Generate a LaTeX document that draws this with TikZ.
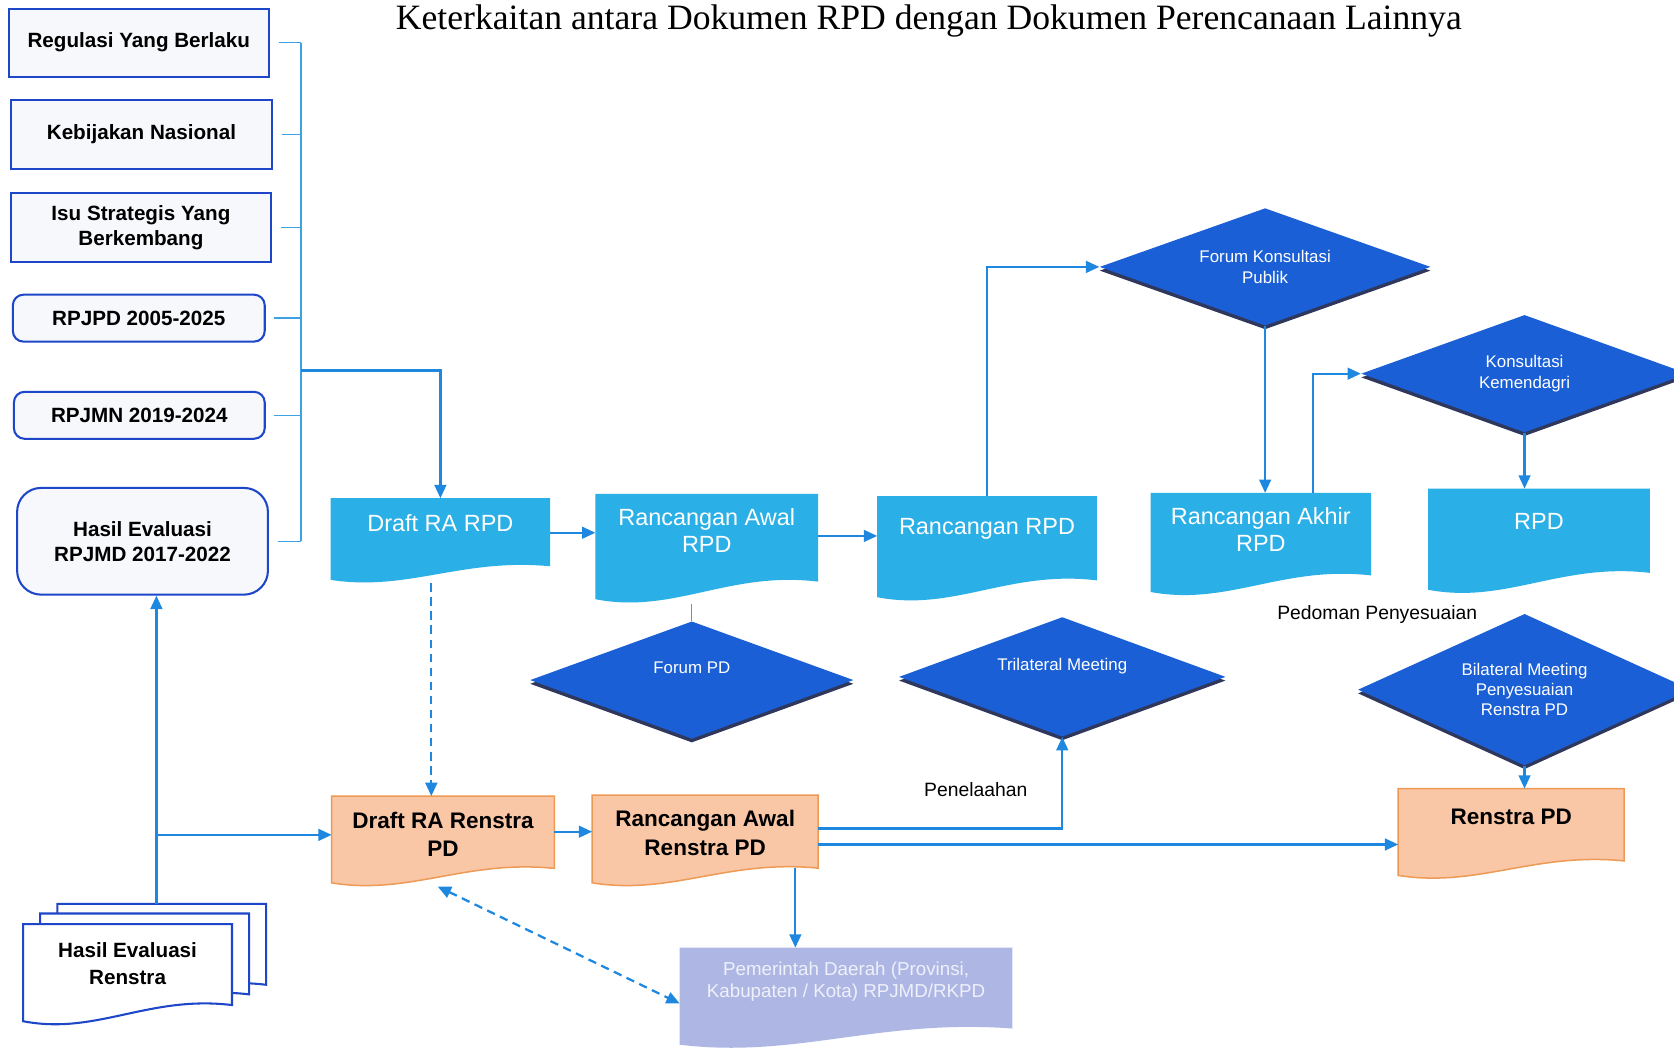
\documentclass[tikz,border=0pt]{standalone}
\usepackage{fontspec}
\setmainfont{Liberation Sans}
\newfontfamily\titlefont{Liberation Serif}
\usepackage{tikz}
\usetikzlibrary{arrows.meta, positioning, calc, shapes.geometric, shadows, backgrounds}

\definecolor{boxblue}{HTML}{1E46C8}
\definecolor{boxfill}{HTML}{F6F8FB}
\definecolor{feedblue}{HTML}{3BA3E3}
\definecolor{flowblue}{HTML}{1E88E0}
\definecolor{docblue}{HTML}{2AAFE6}
\definecolor{meetblue}{HTML}{1A5FD6}
\definecolor{meetshadow}{HTML}{0B1640}
\definecolor{renstrafill}{HTML}{F9C6A6}
\definecolor{renstradraw}{HTML}{EE9A55}
\definecolor{pemdafill}{HTML}{AEB7E4}
\definecolor{pemdatext}{HTML}{EEF0FA}

% sheet with a wavy lower edge, drawn round a node
\newcommand{\docsheet}[2]{%
  \path[#1] let \p1=(#2.south west), \p2=(#2.north east),
      \n1={\x2-\x1}, \n2={\y2-\y1} in
    (\x1,\y2) -- (\x2,\y2) -- (\x2,\y1+0.2*\n2)
    .. controls (\x1+0.6*\n1,\y1+0.3*\n2) and (\x1+0.35*\n1,\y1-0.1*\n2)
    .. (\x1,\y1+0.04*\n2) -- cycle;}

\begin{document}
\begin{tikzpicture}[
    x=0.02cm, y=-0.02cm,
    srcbox/.style={draw=boxblue, fill=boxfill, line width=1.1pt, align=center,
      font=\bfseries\fontsize{11}{13.2}\selectfont},
    srcround/.style={srcbox, rounded corners=#1},
    srcround/.default=0.2cm,
    srctext/.style={align=center, font=\bfseries\fontsize{11}{14.2}\selectfont},
    sheet/.style={inner sep=0pt},
    bluetext/.style={text=white, align=center, font=\fontsize{12.5}{14.8}\selectfont},
    orangetext/.style={align=center, font=\bfseries\fontsize{12}{15.4}\selectfont},
    meeting/.style={diamond, aspect=2.8, inner sep=0pt, fill=meetblue, text=white,
      align=center, font=\fontsize{9}{10.8}\selectfont,
      drop shadow={shadow xshift=0cm, shadow yshift=-0.07cm, fill=meetshadow, opacity=0.85}},
    note/.style={font=\fontsize{10.3}{12}\selectfont},
    flow/.style={-{Triangle[length=0.25cm, width=0.22cm]}, draw=flowblue, line width=1.2pt},
    dashflow/.style={flow, dash pattern=on 4.5pt off 3pt},
    bothflow/.style={dashflow, {Triangle[length=0.25cm, width=0.22cm]}-{Triangle[length=0.25cm, width=0.22cm]}},
    feed/.style={draw=feedblue, line width=0.7pt}
  ]
  \useasboundingbox (0,0) rectangle (1568,983);
  \clip (0,0) rectangle (1568,983);
  \begin{scope}[on background layer]
    \fill[white] (0,0) rectangle (1568,983);
  \end{scope}

  \node[font=\titlefont\fontsize{19}{23}\selectfont] (title) at (870,20)
    {Keterkaitan antara Dokumen RPD dengan Dokumen Perencanaan Lainnya};

  % sources on the left
  \node[srcbox, minimum width=4.88cm, minimum height=1.28cm] (regulasi) at (130,40) {Regulasi Yang Berlaku};
  \node[srcbox, minimum width=4.9cm, minimum height=1.28cm] (kebijakan) at (132.5,126) {Kebijakan Nasional};
  \node[srcbox, minimum width=4.88cm, minimum height=1.28cm] (isu) at (132,213) {Isu Strategis Yang\\Berkembang};
  \node[srcround, minimum width=4.72cm, minimum height=0.88cm] (rpjpd) at (130,298) {RPJPD 2005-2025};
  \node[srcround, minimum width=4.7cm, minimum height=0.88cm] (rpjmn) at (130.5,389) {RPJMN 2019-2024};
  \node[srcround=0.45cm, minimum width=4.7cm, minimum height=2cm] (evalRPJMD) at (133.5,507) {Hasil Evaluasi\\RPJMD 2017-2022};

  % RPD documents
  \node[sheet, minimum width=4.1cm, minimum height=1.58cm,
    label={[bluetext, yshift=0.33cm]center:Draft RA RPD}] (draftRPD) at (412.5,506.5) {};
  \node[sheet, minimum width=4.16cm, minimum height=2.04cm,
    label={[bluetext, yshift=0.34cm]center:{Rancangan Awal\\RPD}}] (awalRPD) at (662,514) {};
  \node[sheet, minimum width=4.1cm, minimum height=1.96cm,
    label={[bluetext, yshift=0.38cm]center:Rancangan RPD}] (rancRPD) at (924.5,514) {};
  \node[sheet, minimum width=4.12cm, minimum height=1.92cm,
    label={[bluetext, yshift=0.28cm]center:{Rancangan Akhir\\RPD}}] (akhirRPD) at (1181,510) {};
  \node[sheet, minimum width=4.14cm, minimum height=1.96cm,
    label={[bluetext, yshift=0.38cm]center:RPD}] (rpd) at (1441.5,507) {};

  % meetings
  \node[meeting, minimum width=6.2cm, minimum height=2.2cm] (konsPublik) at (1185,250) {Forum Konsultasi\\Publik};
  \node[meeting, minimum width=6.12cm, minimum height=2.2cm] (kemendagri) at (1428,350) {Konsultasi\\Kemendagri};
  \node[meeting, minimum width=6.06cm, minimum height=2.2cm, text depth=0.47cm] (forumPD) at (648,637) {Forum PD};
  \node[meeting, minimum width=6.12cm, minimum height=2.24cm, text depth=0.45cm] (trilateral) at (995,634) {Trilateral Meeting};
  \node[meeting, minimum width=6.24cm, minimum height=2.84cm] (bilateral) at (1428,646) {Bilateral Meeting\\Penyesuaian\\Renstra PD};

  % Renstra documents
  \node[sheet, minimum width=4.16cm, minimum height=1.68cm,
    label={[orangetext, yshift=0.13cm]center:{Draft RA Renstra\\PD}}] (draftRenstra) at (415,788) {};
  \node[sheet, minimum width=4.22cm, minimum height=1.7cm,
    label={[orangetext, yshift=0.14cm]center:{Rancangan Awal\\Renstra PD}}] (awalRenstra) at (660.5,787.5) {};
  \node[sheet, minimum width=4.22cm, minimum height=1.68cm,
    label={[orangetext, yshift=0.32cm]center:Renstra PD}] (renstra) at (1415.5,781) {};
  \node[sheet, minimum width=6.22cm, minimum height=1.88cm,
    label={[text=pemdatext, align=center, font=\fontsize{10}{12}\selectfont, yshift=0.31cm]center:{Pemerintah Daerah (Provinsi,\\Kabupaten / Kota) RPJMD/RKPD}}] (pemda) at (792.5,935) {};

  \node[sheet, minimum width=3.9cm, minimum height=1.88cm,
    label={[srctext, yshift=0.21cm]center:{Hasil Evaluasi\\Renstra}}] (evalRenstra) at (119.5,913) {};
  \node[sheet, minimum width=3.9cm, minimum height=1.88cm] (evalMid) at ($(evalRenstra)+(16,-10)$) {};
  \node[sheet, minimum width=3.9cm, minimum height=1.88cm] (evalBack) at ($(evalMid)+(16,-9)$) {};

  \node[note] (pedoman) at (1290,576) {Pedoman Penyesuaian};
  \node[note] (penelaahan) at (914,740) {Penelaahan};

  \begin{scope}[on background layer]
    \foreach \d in {draftRPD, awalRPD, rancRPD, akhirRPD, rpd}
      \docsheet{fill=docblue}{\d};
    \foreach \d in {draftRenstra, awalRenstra, renstra}
      \docsheet{fill=renstrafill, draw=renstradraw, line width=0.8pt}{\d};
    \docsheet{fill=pemdafill}{pemda};
    \foreach \d in {evalBack, evalMid, evalRenstra}
      \docsheet{fill=white, draw=boxblue, line width=1.1pt}{\d};
  \end{scope}

  % bracket of sources
  \coordinate (bus) at (282,347);
  \draw[feed] (regulasi.east -| bus) -- (evalRPJMD.east -| bus);
  \foreach \n in {regulasi, kebijakan, isu, rpjpd, rpjmn, evalRPJMD}
    \draw[feed] ([xshift=0.16cm]\n.east) -- (\n.east -| bus);
  \draw[flow] (bus) -| (draftRPD.north);

  % RPD chain
  \draw[flow] ([yshift=0.15cm]draftRPD.east) -- ([yshift=0.15cm]draftRPD.east -| awalRPD.west);
  \draw[flow] ([yshift=0.24cm]awalRPD.east) -- ([yshift=0.24cm]awalRPD.east -| rancRPD.west);
  \draw[feed] (forumPD.north |- awalRPD.south) -- (forumPD.north);
  \draw[flow] (rancRPD.north) |- (konsPublik.west);
  \draw[flow] (konsPublik.south) -- (konsPublik.south |- akhirRPD.north);
  \draw[flow] ([xshift=0.98cm]akhirRPD.north) |- (kemendagri.west);
  \draw[flow] (kemendagri.south) -- (kemendagri.south |- rpd.north);

  % Renstra chain
  \coordinate (evalJoin) at (146,782);
  \draw[dashflow] ([xshift=-0.17cm]draftRPD.south) -- ([xshift=-0.17cm]draftRPD.south |- draftRenstra.north);
  \draw[flow] ([xshift=-0.1cm]evalBack.north) -- ([xshift=-0.1cm]evalBack.north |- evalRPJMD.south);
  \draw[flow] (evalJoin) -- (evalJoin -| draftRenstra.west);
  \draw[flow] ([yshift=0.18cm]draftRenstra.east) -- ([yshift=0.18cm]draftRenstra.east -| awalRenstra.west);
  \draw[flow] ([yshift=0.23cm]awalRenstra.east) -| (trilateral.south);
  \draw[flow] ([yshift=-0.07cm]awalRenstra.east) -- ([yshift=-0.07cm]awalRenstra.east -| renstra.west);
  \draw[flow] ([xshift=1.69cm, yshift=0.34cm]awalRenstra.south) -- ([xshift=1.69cm]awalRenstra.south |- pemda.north);
  \draw[bothflow] ([xshift=-0.1cm]draftRenstra.south) -- ([yshift=-0.1cm]pemda.west);
  \draw[flow] (bilateral.south) -- (bilateral.south |- renstra.north);
\end{tikzpicture}
\end{document}
